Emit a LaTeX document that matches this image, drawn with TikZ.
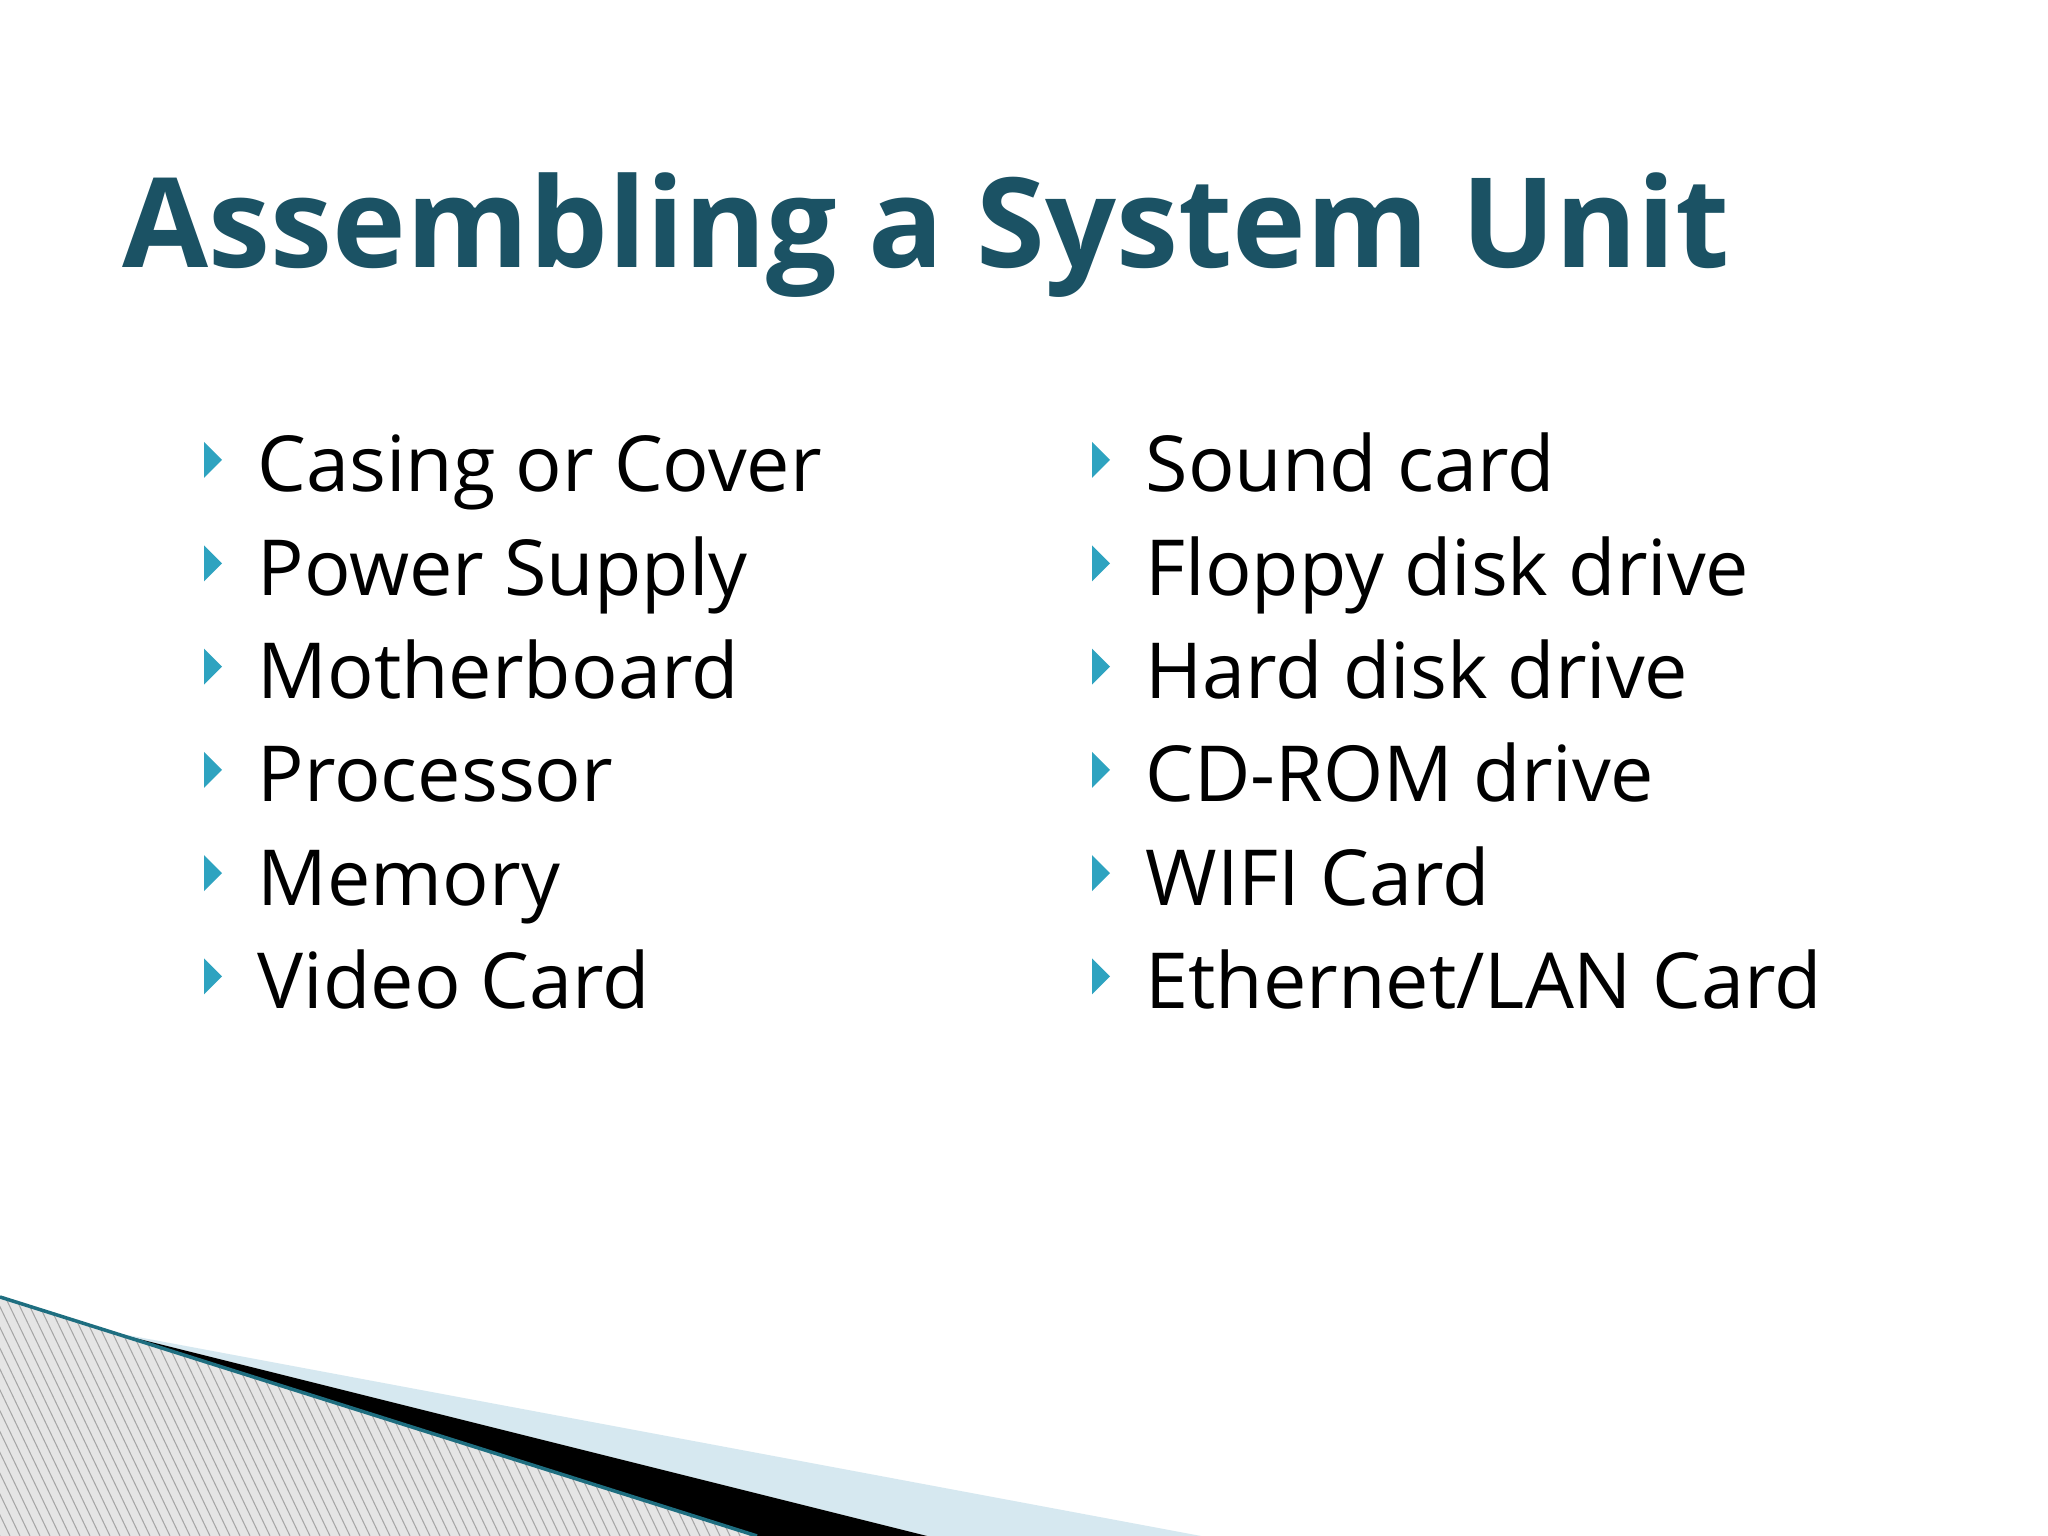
\documentclass[tikz,border=0pt]{standalone}
\usepackage{fontspec}
\setmainfont{Open Sans}
\definecolor{titlec}{HTML}{1B5264}
\definecolor{bulc}{HTML}{2EA3C0}
\definecolor{lblue}{HTML}{D6E8F0}
\definecolor{tealline}{HTML}{1E6E80}
\begin{document}
\begin{tikzpicture}[x=1cm,y=1cm,
  item/.style={anchor=base west,inner sep=0pt,font=\fontsize{22}{26}\selectfont},
  bul/.style={fill=bulc,draw=none}]
\useasboundingbox (0,0) rectangle (20.48,15.36);
\fill[white] (0,0) rectangle (20.48,15.36);
% decoration
\fill[lblue] (1.11,2.04) -- (12.01,0) -- (9.27,0) -- cycle;
\fill[black] (1.11,2.04) -- (9.27,0) -- (7.57,0) -- cycle;
\begin{scope}
\clip (0,2.39) -- (1.11,2.04) -- (7.57,0) -- (0,0) -- cycle;
\fill[gray!20] (0,0) rectangle (8,2.5);
\foreach \i in {-30,...,80} \draw[gray!70,line width=0.3pt] (\i*0.1,2.5) -- (\i*0.1+1.2,0);
\end{scope}
\draw[tealline,line width=1pt] (0,2.39) -- (1.11,2.04) -- (7.57,0);
% title
\node[anchor=base west,inner sep=0pt,text=titlec,font=\fontsize{35.5}{40}\bfseries\selectfont] (title) at (1.22,12.68) {Assembling a System Unit};
% items
\foreach \t [count=\k from 0] in {Casing or Cover,Power Supply,Motherboard,Processor,Memory,Video Card}{
  \node[item] (l\k) at (2.57,10.44-\k*1.033) {\t};
  \fill[bul] (2.04,10.44-\k*1.033+0.14) -- (2.04,10.44-\k*1.033+0.50) -- (2.22,10.44-\k*1.033+0.32) -- cycle;
}
\foreach \t [count=\k from 0] in {Sound card,Floppy disk drive,Hard disk drive,CD-ROM drive,WIFI Card,Ethernet/LAN Card}{
  \node[item] (r\k) at (11.45,10.44-\k*1.033) {\t};
  \fill[bul] (10.92,10.44-\k*1.033+0.14) -- (10.92,10.44-\k*1.033+0.50) -- (11.10,10.44-\k*1.033+0.32) -- cycle;
}
\end{tikzpicture}
\end{document}
